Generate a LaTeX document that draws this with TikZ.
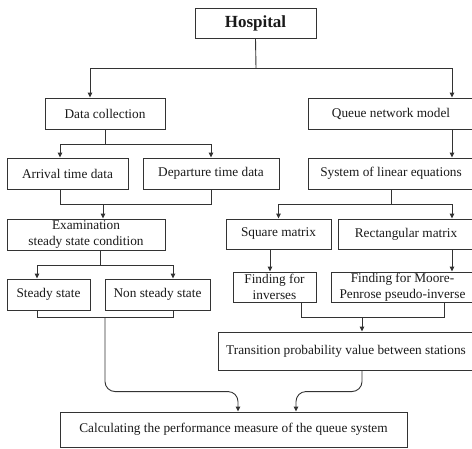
\documentclass[tikz,border=0pt]{standalone}
\usepackage{fontspec}
\setmainfont{Liberation Serif}
\usetikzlibrary{arrows.meta}
\definecolor{ln}{HTML}{333333}
\tikzset{
  box/.style={draw=ln, line width=0.9pt, inner sep=0pt, align=center,
    font=\fontsize{13.3}{15.5}\selectfont, text=black!90},
  con/.style={draw=ln, line width=0.9pt},
  arr/.style={con, -{Triangle[length=5pt,width=4.5pt]}},
}
\begin{document}
\begin{tikzpicture}[x=1pt,y=-1pt]
\useasboundingbox (0,0) rectangle (472,448);
\node[box, minimum width=121, minimum height=30, font=\fontsize{17}{19}\selectfont\bfseries] (hosp) at (255.5,23) {Hospital};
\node[box, minimum width=120, minimum height=31] (dc) at (105,113.5) {Data collection};
\node[box, minimum width=166, minimum height=31] (qnm) at (391,113.5) {Queue network model};
\node[box, minimum width=121, minimum height=31] (arv) at (67.5,173.5) {Arrival time data};
\node[box, minimum width=136, minimum height=31] (dep) at (211,173.5) {Departure time data};
\node[box, minimum width=166, minimum height=31] (sys) at (391,173.5) {System of linear equations};
\node[box, minimum width=158, minimum height=31] (exam) at (86,234.5) {Examination\\steady state condition};
\node[box, minimum width=105, minimum height=30] (sq) at (278.5,234) {Square matrix};
\node[box, minimum width=136, minimum height=30] (rect) at (406,234) {Rectangular matrix};
\node[box, minimum width=83, minimum height=31] (st) at (48.5,294.5) {Steady state};
\node[box, minimum width=105, minimum height=31] (nst) at (157.5,294.5) {Non steady state};
\node[box, minimum width=83, minimum height=30] (inv) at (274.5,287) {Finding for\\inverses};
\node[box, minimum width=143, minimum height=30] (mp) at (402.5,287) {Finding for Moore-\\Penrose pseudo-inverse};
\node[box, minimum width=256, minimum height=38] (tr) at (346,351) {Transition probability value between stations};
\node[box, minimum width=347, minimum height=35] (calc) at (233.5,429.5) {Calculating the performance measure of the queue system};
\coordinate (j1) at (256,68);
\coordinate (j2) at (105,144);
\coordinate (j3) at (103,204);
\coordinate (j4) at (100,265);
\coordinate (j5) at (105,317);
\coordinate (j6) at (391,204);
\coordinate (j7) at (362,317);
\draw[con] (hosp.south) -- (j1);
\draw[arr] (j1) -| ([xshift=-15pt]dc.north);
\draw[arr] (j1) -| ([xshift=61pt]qnm.north);
\draw[con] (dc.south) -- (j2);
\draw[arr] (j2) -| ([xshift=-7.5pt]arv.north);
\draw[arr] (j2) -| (dep.north);
\draw[con] ([xshift=-7.5pt]arv.south) -- ++(0,15) -| (dep.south);
\draw[arr] (j3) -- ([xshift=17pt]exam.north);
\draw[con] ([xshift=14pt]exam.south) -- (j4);
\draw[arr] (j4) -| ([xshift=-11.5pt]st.north);
\draw[arr] (j4) -| ([xshift=15.5pt]nst.north);
\draw[con] ([xshift=-11.5pt]st.south) -- ++(0,7) -| ([xshift=15.5pt]nst.south);
\draw[arr, rounded corners=10pt] (j5) |- ([xshift=4.5pt,yshift=20pt]calc.north) -- ([xshift=4.5pt]calc.north);
\draw[arr] ([xshift=61pt]qnm.south) -- ([xshift=61pt]sys.north);
\draw[con] (sys.south) -- (j6);
\draw[arr] (j6) -| (sq.north);
\draw[arr] (j6) -| ([xshift=46pt]rect.north);
\draw[arr] ([xshift=-8.5pt]sq.south) -- ([xshift=-4.5pt]inv.north);
\draw[arr] ([xshift=46pt]rect.south) -- ([xshift=49.5pt]mp.north);
\draw[con] ([xshift=26.5pt]inv.south) -- ++(0,15) -| ([xshift=41.5pt]mp.south);
\draw[arr] (j7) -- ([xshift=16pt]tr.north);
\draw[arr, rounded corners=10pt] ([xshift=16pt]tr.south) |- ([xshift=62.5pt,yshift=20pt]calc.north) -- ([xshift=62.5pt]calc.north);
\end{tikzpicture}
\end{document}
